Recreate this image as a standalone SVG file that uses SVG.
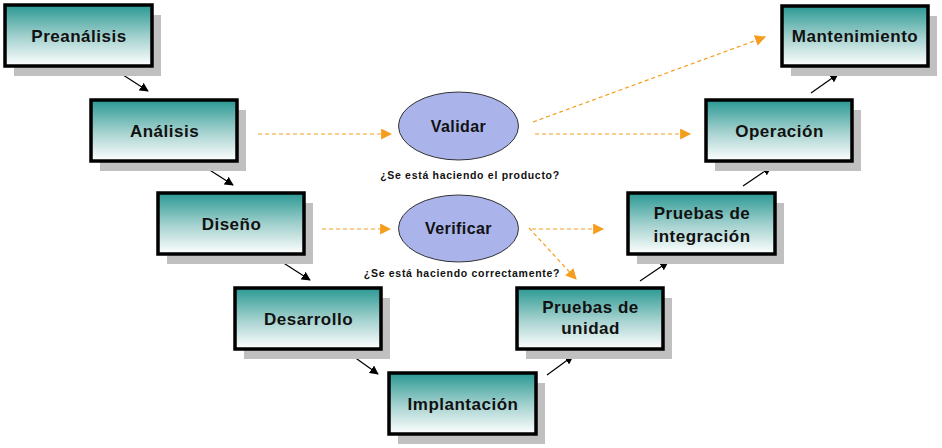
<svg xmlns="http://www.w3.org/2000/svg" width="942" height="448" viewBox="0 0 942 448">
<defs>
<linearGradient id="g" x1="0" y1="0" x2="0" y2="1">
<stop offset="0" stop-color="#2a9893"/>
<stop offset="0.5" stop-color="#9fcfcc"/>
<stop offset="1" stop-color="#ffffff"/>
</linearGradient>
<marker id="ab" viewBox="0 0 10 10" refX="9" refY="5" markerWidth="9" markerHeight="9" markerUnits="userSpaceOnUse" orient="auto"><path d="M0,0 L10,5 L0,10 z" fill="#000"/></marker>
<marker id="ao" viewBox="0 0 10 10" refX="9" refY="5" markerWidth="11" markerHeight="11" markerUnits="userSpaceOnUse" orient="auto"><path d="M0,0 L10,5 L0,10 z" fill="#f59d1e"/></marker>
</defs>
<style>
.sh{fill:#c0c0c0}
.bx{fill:url(#g);stroke:#000;stroke-width:3.5}
.t{font-family:"Liberation Sans",Arial,sans-serif;font-weight:bold;font-size:17px;letter-spacing:0.5px;fill:#111;text-anchor:middle}
.v{font-size:16px;letter-spacing:0.4px}
.el{fill:#aab4ea;stroke:#333;stroke-width:1}
.q{font-family:"Liberation Sans",Arial,sans-serif;font-weight:bold;font-size:10.5px;letter-spacing:0.7px;fill:#111;text-anchor:middle}
.k{stroke:#000;stroke-width:1.2;fill:none;marker-end:url(#ab)}
.o{stroke:#f59d1e;stroke-width:1.2;stroke-dasharray:4,3;fill:none;marker-end:url(#ao)}
</style>
<g id="connectors">
<line class="k" x1="120" y1="73" x2="148" y2="91"/>
<line class="k" x1="205" y1="167" x2="233" y2="185"/>
<line class="k" x1="282" y1="262" x2="310" y2="280"/>
<line class="k" x1="350" y1="354" x2="378" y2="374"/>
<line class="k" x1="547" y1="375" x2="573" y2="356"/>
<line class="k" x1="640" y1="281" x2="668" y2="262"/>
<line class="k" x1="743" y1="186" x2="771" y2="167"/>
<line class="k" x1="811" y1="93" x2="838" y2="74"/>
<line class="o" x1="258" y1="134" x2="391" y2="134"/>
<line class="o" x1="535" y1="134" x2="690" y2="134"/>
<line class="o" x1="533" y1="122" x2="765" y2="37"/>
<line class="o" x1="322" y1="229" x2="390" y2="229"/>
<line class="o" x1="532" y1="229" x2="603" y2="229"/>
<line class="o" x1="529" y1="228" x2="576" y2="279"/>
</g>
<g id="preanalisis"><rect class="sh" x="14" y="15" width="147" height="61"/><rect class="bx" x="5" y="5" width="147" height="61"/><text class="t" x="79" y="42">Preanálisis</text></g>
<g id="analisis"><rect class="sh" x="100" y="110" width="146" height="61"/><rect class="bx" x="91" y="100" width="146" height="61"/><text class="t" x="164.5" y="137">Análisis</text></g>
<g id="diseno"><rect class="sh" x="167" y="203" width="146" height="61"/><rect class="bx" x="158" y="193" width="146" height="61"/><text class="t" x="231.5" y="230">Diseño</text></g>
<g id="desarrollo"><rect class="sh" x="244" y="298" width="146" height="61"/><rect class="bx" x="235" y="288" width="146" height="61"/><text class="t" x="308.5" y="325">Desarrollo</text></g>
<g id="implantacion"><rect class="sh" x="398" y="383" width="147" height="61"/><rect class="bx" x="389" y="373" width="147" height="61"/><text class="t" x="463" y="410">Implantación</text></g>
<g id="pruebas-unidad"><rect class="sh" x="526" y="298" width="146" height="61"/><rect class="bx" x="517" y="288" width="146" height="61"/><text class="t" x="590.5" y="313">Pruebas de</text><text class="t" x="590.5" y="334">unidad</text></g>
<g id="pruebas-integracion"><rect class="sh" x="637" y="203" width="147" height="61"/><rect class="bx" x="628" y="193" width="147" height="61"/><text class="t" x="702" y="219">Pruebas de</text><text class="t" x="702" y="242">integración</text></g>
<g id="operacion"><rect class="sh" x="715" y="110" width="146" height="61"/><rect class="bx" x="706" y="100" width="146" height="61"/><text class="t" x="779.5" y="137">Operación</text></g>
<g id="mantenimiento"><rect class="sh" x="791" y="16" width="146" height="60"/><rect class="bx" x="782" y="6" width="146" height="60"/><text class="t" x="855" y="42">Mantenimiento</text></g>
<g id="validar"><ellipse class="el" cx="458.5" cy="126" rx="60" ry="34"/><text class="t v" x="458.5" y="132">Validar</text><text class="q" x="470" y="179">¿Se está haciendo el producto?</text></g>
<g id="verificar"><ellipse class="el" cx="458.5" cy="228.5" rx="60" ry="33.5"/><text class="t v" x="458.5" y="234">Verificar</text><text class="q" x="462" y="277">¿Se está haciendo correctamente?</text></g>
</svg>
